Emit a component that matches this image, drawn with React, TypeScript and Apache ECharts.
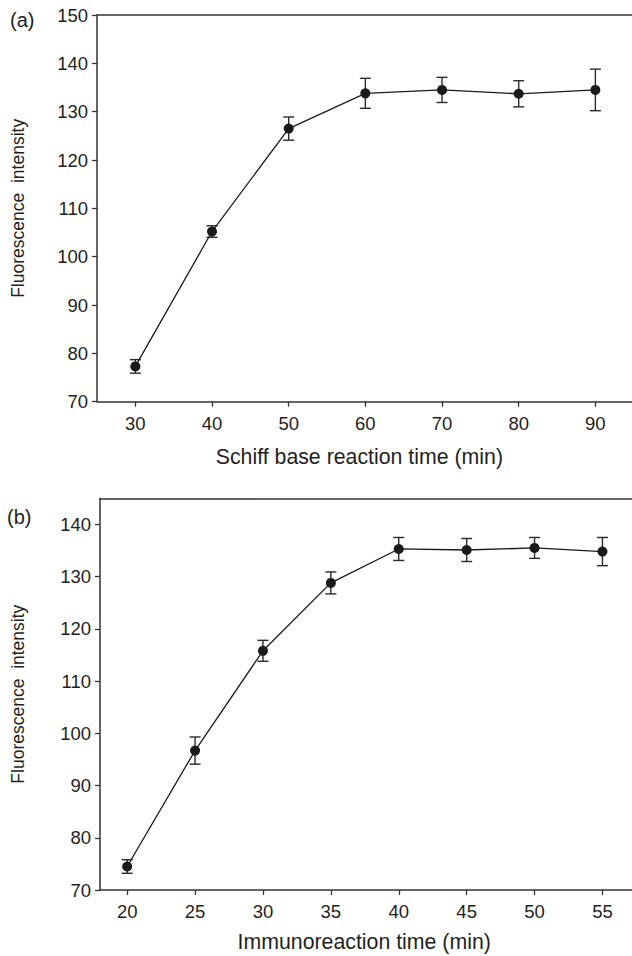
import React, { useEffect, useRef } from "react";
import * as echarts from "echarts";

// Panel (a): Schiff base reaction time
const X_A = [30, 40, 50, 60, 70, 80, 90];
const Y_A = [77.3, 105.2, 126.5, 133.8, 134.5, 133.7, 134.5];
const ERR_A = [1.4, 1.2, 2.4, 3.1, 2.6, 2.7, 4.3];
const X_TICKS_A = [30, 40, 50, 60, 70, 80, 90];
const Y_TICKS_A = [70, 80, 90, 100, 110, 120, 130, 140, 150];

// Panel (b): Immunoreaction time
const X_B = [20, 25, 30, 35, 40, 45, 50, 55];
const Y_B = [74.5, 96.7, 115.8, 128.8, 135.3, 135.1, 135.5, 134.8];
const ERR_B = [1.3, 2.6, 2.0, 2.1, 2.2, 2.2, 2.0, 2.7];
const X_TICKS_B = [20, 25, 30, 35, 40, 45, 50, 55];
const Y_TICKS_B = [70, 80, 90, 100, 110, 120, 130, 140];

const FONT = "Liberation Sans";
const INK = "#231f20";
const AXIS = "#333";

function pts(xs: number[], ys: number[]) {
  return xs.map((x, i) => [x, ys[i]]);
}
function errs(xs: number[], ys: number[], es: number[]) {
  return xs.map((x, i) => [x, ys[i] - es[i], ys[i] + es[i]]);
}

const renderErr = (params: any, api: any) => {
  const x = api.value(0);
  const lo = api.coord([x, api.value(1)]);
  const hi = api.coord([x, api.value(2)]);
  const hw = 5.5;
  const st = { stroke: "#2a2a2a", lineWidth: 1.4 };
  return {
    type: "group",
    children: [
      { type: "line", shape: { x1: lo[0], y1: lo[1], x2: hi[0], y2: hi[1] }, style: st },
      { type: "line", shape: { x1: hi[0] - hw, y1: hi[1], x2: hi[0] + hw, y2: hi[1] }, style: st },
      { type: "line", shape: { x1: lo[0] - hw, y1: lo[1], x2: lo[0] + hw, y2: lo[1] }, style: st },
    ],
  };
};

function xAxis(grid: number, min: number, max: number, ticks: number[], name: string, gap: number, pad: number[]) {
  return {
    type: "value",
    gridIndex: grid,
    position: "bottom",
    min,
    max,
    name,
    nameLocation: "middle",
    nameGap: gap,
    nameTextStyle: { fontFamily: FONT, fontSize: 21.3, color: INK, padding: pad },
    axisLine: { show: true, onZero: false, lineStyle: { color: AXIS, width: 1.5 } },
    axisTick: { show: true, inside: false, length: 5, customValues: ticks, lineStyle: { color: AXIS, width: 1.3 } },
    axisLabel: { customValues: ticks, fontFamily: FONT, fontSize: 18.5, color: INK, margin: 12 },
    splitLine: { show: false },
  };
}

function topFrame(grid: number, min: number, max: number) {
  return {
    type: "value",
    gridIndex: grid,
    position: "top",
    min,
    max,
    axisLine: { show: true, onZero: false, lineStyle: { color: AXIS, width: 1.5 } },
    axisTick: { show: false },
    axisLabel: { show: false },
    splitLine: { show: false },
  };
}

function yAxis(grid: number, min: number, max: number, ticks: number[], gap: number) {
  return {
    type: "value",
    gridIndex: grid,
    position: "left",
    min,
    max,
    name: "Fluorescence  intensity",
    nameLocation: "middle",
    nameGap: gap,
    nameTextStyle: { fontFamily: FONT, fontSize: 17.5, color: INK },
    axisLine: { show: true, onZero: false, lineStyle: { color: AXIS, width: 1.5 } },
    axisTick: { show: true, inside: false, length: 5, customValues: ticks, lineStyle: { color: AXIS, width: 1.3 } },
    axisLabel: { customValues: ticks, fontFamily: FONT, fontSize: 18.5, color: INK, margin: 9 },
    splitLine: { show: false },
  };
}

function lineSeries(idx: number, data: number[][]) {
  return {
    type: "line",
    xAxisIndex: idx,
    yAxisIndex: idx,
    data,
    symbol: "circle",
    symbolSize: 10,
    itemStyle: { color: "#1a1a1a" },
    lineStyle: { color: "#1a1a1a", width: 1.3 },
    z: 3,
  };
}

function errSeries(idx: number, data: number[][]) {
  return {
    type: "custom",
    xAxisIndex: idx,
    yAxisIndex: idx,
    data,
    encode: { x: 0, y: [1, 2] },
    renderItem: renderErr,
    z: 2,
  };
}

export default function App() {
  const ref = useRef<HTMLDivElement>(null);
  useEffect(() => {
    document.body.style.margin = "0";
    document.body.style.overflow = "hidden";
    const chart = echarts.init(ref.current!, null, { renderer: "svg" });
    chart.setOption({
      animation: false,
      backgroundColor: "#fff",
      textStyle: { fontFamily: FONT },
      grid: [
        { left: 97, top: 15, width: 536.7, height: 386.7 },
        { left: 100, top: 498.3, width: 536.4, height: 391.7 },
      ],
      xAxis: [
        xAxis(0, 25, 95, X_TICKS_A, "Schiff base reaction time (min)", 45, [0, 12, 0, 0]),
        xAxis(1, 18, 57.5, X_TICKS_B, "Immunoreaction time (min)", 41, [0, 8, 0, 0]),
        topFrame(0, 25, 95),
        topFrame(1, 18, 57.5),
      ],
      yAxis: [yAxis(0, 70, 150, Y_TICKS_A, 70), yAxis(1, 70, 145, Y_TICKS_B, 73)],
      graphic: [
        { type: "text", left: 10, top: 10, style: { text: "(a)", fontFamily: FONT, fontSize: 20, fill: INK } },
        { type: "text", left: 7, top: 507, style: { text: "(b)", fontFamily: FONT, fontSize: 20, fill: INK } },
      ],
      series: [
        errSeries(0, errs(X_A, Y_A, ERR_A)),
        lineSeries(0, pts(X_A, Y_A)),
        errSeries(1, errs(X_B, Y_B, ERR_B)),
        lineSeries(1, pts(X_B, Y_B)),
      ],
    });
    return () => chart.dispose();
  }, []);
  return (
    <div style={{ position: "absolute", left: 0, top: 0, width: 632, height: 956, overflow: "hidden" }}>
      <div ref={ref} style={{ width: 700, height: 956 }} />
    </div>
  );
}
